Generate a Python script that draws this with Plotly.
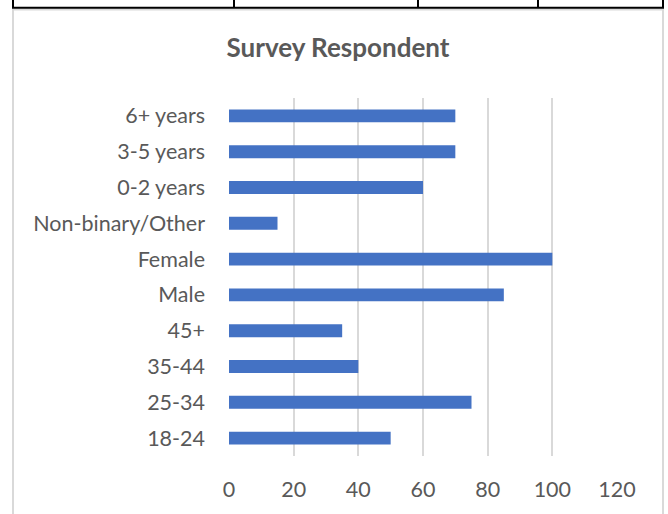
import plotly.graph_objects as go

categories = ["18-24", "25-34", "35-44", "45+", "Male", "Female",
              "Non-binary/Other", "0-2 years", "3-5 years", "6+ years"]
values = [50, 75, 40, 35, 85, 100, 15, 60, 70, 70]
x_ticks = [0, 20, 40, 60, 80, 100, 120]

W, H = 668, 514
L, R, T, B = 229, 617, 98, 458.5  # plot area in pixels

def px(x):
    return (x - L) / (R - L)

def py(y):
    return (B - y) / (B - T)

FONT = "Lato"
GRAY = "#595959"

fig = go.Figure(go.Bar(
    x=values, y=categories, orientation="h",
    marker=dict(color="#4472C4", line=dict(width=0)),
    width=0.36,
))

shapes = []
# light grey chart border
shapes.append(dict(type="path", xref="paper", yref="paper",
                   path=f"M {px(13)} {py(530)} L {px(13)} {py(9)} L {px(663)} {py(9)} L {px(663)} {py(530)}",
                   line=dict(color="#d9d9d9", width=2)))
# black table border lines at top
shapes.append(dict(type="line", xref="paper", yref="paper",
                   x0=px(12), x1=px(664), y0=py(7), y1=py(7),
                   line=dict(color="black", width=2)))
for xv in [13, 234, 418, 538, 663]:
    shapes.append(dict(type="line", xref="paper", yref="paper",
                       x0=px(xv), x1=px(xv), y0=py(-5), y1=py(7),
                       line=dict(color="black", width=2)))

fig.update_layout(
    width=W, height=H,
    margin=dict(l=L, r=W - R, t=T, b=H - B, pad=0),
    paper_bgcolor="white", plot_bgcolor="white",
    showlegend=False,
    title=dict(text="<b>Survey Respondent</b>", x=px(338), xanchor="center",
               y=1 - 48 / H, yanchor="middle", xref="paper",
               font=dict(family=FONT, size=26, color=GRAY)),
    xaxis=dict(range=[0, 120], tickvals=x_ticks, showgrid=True,
               gridcolor="#d9d9d9", gridwidth=1.5, zeroline=False,
               showline=False, ticks="", ticklabelstandoff=18,
               tickfont=dict(family=FONT, size=21.5, color=GRAY),
               fixedrange=True),
    yaxis=dict(categoryorder="array", categoryarray=categories,
               showgrid=False, zeroline=False, showline=False, ticks="",
               ticklabelstandoff=23,
               tickfont=dict(family=FONT, size=21.5, color=GRAY),
               fixedrange=True),
    shapes=shapes,
)
fig.write_html("out.html")
